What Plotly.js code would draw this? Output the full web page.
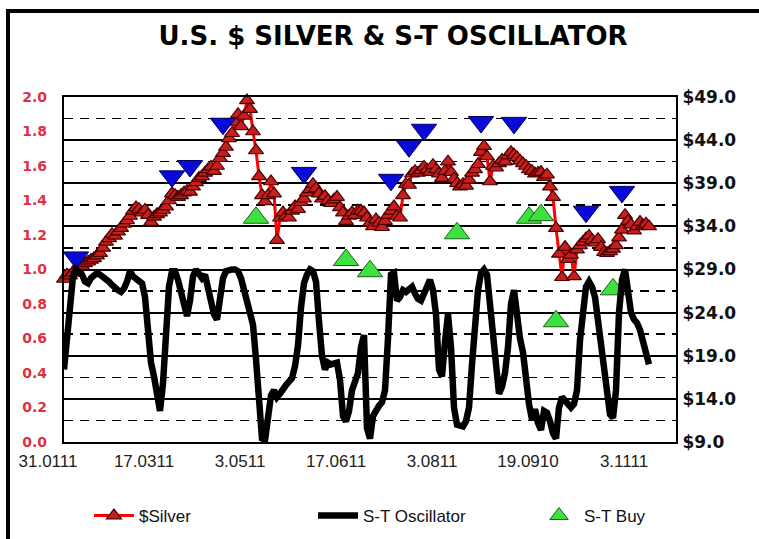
<!DOCTYPE html>
<html><head><meta charset="utf-8">
<script src="https://cdn.plot.ly/plotly-3.0.1.min.js"></script>
<style>html,body{margin:0;padding:0;background:#fff;} #chart{width:759px;height:539px;}</style>
</head><body><div id="chart"></div>
<script>
// x-axis tick labels (as printed on the original chart) and the trading-day index they sit at
const dateLabels = ['31.0111','17.0311','3.0511','17.0611','3.0811','19.0910','3.1111'];
const labelDays = [0, 32, 64, 96, 128, 160, 192];

// U.S. $ silver, daily close (right axis, $)
const silver = [
 27.9, 28.4, 28.3, 28.6, 29.1, 29.6, 29.4, 29.7, 29.9, 30.1,
 30.3, 30.6, 30.9, 31.5, 32.2, 32.6, 33.1, 32.9, 33.4, 33.8,
 34.3, 34.7, 35.2, 35.8, 36.2, 36.0, 35.6, 35.9, 35.3, 34.5,
 35.1, 35.4, 35.6, 35.9, 36.3, 37.0, 37.8, 37.6, 37.4, 37.6,
 37.9, 38.1, 38.0, 38.6, 39.1, 39.6, 39.8, 40.2, 40.6, 40.9,
 40.4, 41.0, 41.9, 42.5, 43.2, 44.2, 44.8, 46.1, 47.0, 45.6,
 46.8, 48.6, 47.6, 45.0, 42.8, 39.8, 37.6, 36.9, 37.6, 39.2,
 37.8, 32.4, 35.0, 35.6, 35.2, 35.0, 35.8, 36.3, 36.0, 36.8,
 37.2, 37.9, 38.3, 38.9, 38.4, 37.8, 37.2, 37.5, 37.0, 36.7,
 37.1, 37.4, 36.2, 35.6, 34.6, 35.2, 35.6, 35.3, 35.8, 35.8,
 35.6, 35.0, 34.4, 34.0, 34.8, 34.4, 33.9, 34.6, 35.3, 35.8,
 36.3, 35.2, 35.0, 37.6, 38.9, 38.8, 40.1, 40.4, 40.2, 40.5,
 40.9, 40.6, 40.3, 41.1, 40.6, 40.1, 39.6, 40.4, 41.5, 40.3,
 39.5, 39.0, 38.6, 38.9, 38.7, 39.4, 40.2, 40.6, 41.2, 42.6,
 43.3, 42.1, 39.2, 41.0, 40.8, 41.3, 41.7, 41.5, 42.2, 42.6,
 42.3, 42.0, 41.6, 41.3, 41.0, 40.6, 40.4, 40.1, 40.2, 40.3,
 39.7, 40.0, 38.6, 37.4, 33.8, 30.8, 28.1, 31.6, 30.2, 30.7,
 28.2, 31.3, 31.8, 32.2, 32.6, 32.9, 32.4, 32.1, 32.5, 31.6,
 31.0, 30.9, 31.1, 31.4, 31.8, 32.7, 33.6, 35.3, 34.6, 34.2,
 33.5, 34.0, 34.5, 34.1, 34.3, 34.0
];

// short-term oscillator (left axis, 0..1)
const oscillator = [
 0.42, 0.60, 0.84, 0.96, 1.00, 0.98, 0.97, 0.93, 0.92, 0.95,
 0.97, 0.98, 0.97, 0.96, 0.95, 0.93, 0.91, 0.89, 0.88, 0.87,
 0.89, 0.93, 0.99, 0.96, 0.95, 0.94, 0.92, 0.84, 0.66, 0.46,
 0.38, 0.28, 0.18, 0.34, 0.62, 0.90, 0.99, 0.99, 0.94, 0.86,
 0.78, 0.73, 0.82, 0.96, 1.00, 0.97, 0.95, 0.97, 0.90, 0.82,
 0.74, 0.71, 0.82, 0.95, 0.99, 1.00, 1.00, 1.00, 0.99, 0.95,
 0.89, 0.83, 0.76, 0.68, 0.48, 0.18, 0.02, 0.01, 0.13, 0.27,
 0.30, 0.26, 0.28, 0.31, 0.33, 0.35, 0.37, 0.44, 0.56, 0.78,
 0.92, 0.97, 1.00, 0.99, 0.93, 0.70, 0.50, 0.42, 0.46, 0.45,
 0.46, 0.46, 0.36, 0.15, 0.12, 0.18, 0.30, 0.34, 0.40, 0.55,
 0.62, 0.08, 0.02, 0.15, 0.19, 0.21, 0.23, 0.30, 0.60, 0.97,
 0.98, 0.82, 0.84, 0.88, 0.87, 0.88, 0.90, 0.86, 0.83, 0.82,
 0.86, 0.92, 0.94, 0.88, 0.74, 0.42, 0.38, 0.58, 0.74, 0.55,
 0.20, 0.10, 0.09, 0.09, 0.12, 0.20, 0.45, 0.70, 0.88, 0.98,
 1.00, 0.97, 0.80, 0.68, 0.42, 0.28, 0.32, 0.40, 0.55, 0.80,
 0.88, 0.72, 0.60, 0.52, 0.35, 0.22, 0.13, 0.19, 0.11, 0.07,
 0.18, 0.17, 0.12, 0.05, 0.02, 0.20, 0.26, 0.24, 0.22, 0.20,
 0.22, 0.30, 0.59, 0.78, 0.90, 0.93, 0.90, 0.84, 0.69, 0.56,
 0.45, 0.28, 0.16, 0.14, 0.30, 0.75, 0.94, 1.00, 0.88, 0.75,
 0.71, 0.69, 0.65, 0.57, 0.50, 0.45
];

// sell signals (blue, not in legend)
const sellDays   = [4, 36, 42, 53, 80, 109, 115, 120, 139, 150, 174, 186];
const sellPrices = [30.4, 39.8, 41.0, 45.9, 40.2, 39.4, 43.3, 45.2, 46.1, 46.0, 35.7, 38.0];

// S-T buy signals (green)
const buyDays   = [64, 94, 102, 131, 155, 159, 164, 183];
const buyPrices = [35.0, 30.1, 28.8, 33.2, 35.0, 35.3, 23.0, 26.7];

const days = silver.map((_, i) => i);

const traces = [
  {x: days, y: silver, type: 'scatter', mode: 'lines+markers', name: '$Silver', yaxis: 'y', legend: 'legend',
   line: {color: '#ff0000', width: 3},
   marker: {symbol: 'triangle-up', size: 13, color: '#c81e1e', line: {color: '#4a0000', width: 1.2}},
   cliponaxis: false},
  {x: sellDays, y: sellPrices, type: 'scatter', mode: 'markers', name: 'S-T Sell', yaxis: 'y', showlegend: false,
   marker: {symbol: 'triangle-down', size: 22, color: '#0a0ad8', line: {color: '#00005a', width: 1}},
   cliponaxis: false},
  {x: buyDays, y: buyPrices, type: 'scatter', mode: 'markers', name: 'S-T Buy', yaxis: 'y', legend: 'legend3',
   marker: {symbol: 'triangle-up', size: 22, color: '#3ee23e', line: {color: '#1d5e1d', width: 1}},
   cliponaxis: false},
  {x: days, y: oscillator, type: 'scatter', mode: 'lines', name: 'S-T Oscillator', yaxis: 'y2', legend: 'legend2',
   line: {color: '#000000', width: 6.5}, cliponaxis: false}
];

const legendFont = {family: 'Liberation Sans, Arial, sans-serif', size: 17, color: '#111'};
function legendAt(x) {
  return {orientation: 'h', x: x, xanchor: 'left', y: -0.2145, yanchor: 'middle',
          font: legendFont, itemwidth: 40, bgcolor: 'rgba(0,0,0,0)'};
}

const layout = {
  width: 759, height: 539,
  margin: {l: 64, r: 83, t: 97, b: 97, autoexpand: false},
  paper_bgcolor: '#ffffff', plot_bgcolor: '#ffffff',
  font: {family: 'Liberation Sans, Arial, sans-serif', color: '#000'},
  title: {text: '<b>U.S. $ SILVER & S-T OSCILLATOR</b>',
          font: {family: 'DejaVu Sans, sans-serif', size: 26, color: '#000'},
          x: 0.5376, xref: 'paper', xanchor: 'center',
          y: 0.933, yref: 'container', yanchor: 'middle'},
  showlegend: true,
  legend: legendAt(0.0408),
  legend2: legendAt(0.4069),
  legend3: legendAt(0.7680),
  xaxis: {range: [0, 204], showgrid: false, zeroline: false,
          showline: true, mirror: true, linecolor: '#000', linewidth: 2,
          tickmode: 'array', tickvals: labelDays, ticktext: dateLabels, ticks: '',
          ticklabelshift: -16, ticklabelstandoff: 3,
          tickfont: {family: 'Liberation Sans, Arial, sans-serif', size: 17, color: '#222'}},
  yaxis: {range: [9, 49], side: 'right', tick0: 9, dtick: 5, tickformat: '.1f', tickprefix: '$',
          showgrid: true, gridcolor: '#000', gridwidth: 2, zeroline: false,
          showline: true, mirror: true, linecolor: '#000', linewidth: 2, ticks: '',
          ticklabelstandoff: 1,
          tickfont: {family: 'DejaVu Sans, sans-serif', size: 17, color: '#111', weight: 'bold'},
          minor: {tick0: 9, dtick: 2.5, showgrid: true, gridcolor: '#000', gridwidth: 1.6, griddash: '9px,7px'}},
  yaxis2: {range: [0, 2], overlaying: 'y', side: 'left', tick0: 0, dtick: 0.2, tickformat: '.1f',
           showgrid: false, zeroline: false, showline: false, ticks: '', ticklabelstandoff: 16,
           tickfont: {family: 'DejaVu Sans, sans-serif', size: 14, color: '#e03040', weight: 'bold'}},
  shapes: [
    {type: 'line', xref: 'paper', yref: 'paper', x0: -0.0915, x1: -0.0915, y0: 1.2493, y1: -0.33,
     line: {color: '#000', width: 4}},
    {type: 'line', xref: 'paper', yref: 'paper', x0: -0.0948, x1: 1.2, y0: 1.2493, y1: 1.2493,
     line: {color: '#000', width: 4}}
  ]
};

Plotly.newPlot('chart', traces, layout, {displayModeBar: false, staticPlot: true});
</script>
</body></html>
